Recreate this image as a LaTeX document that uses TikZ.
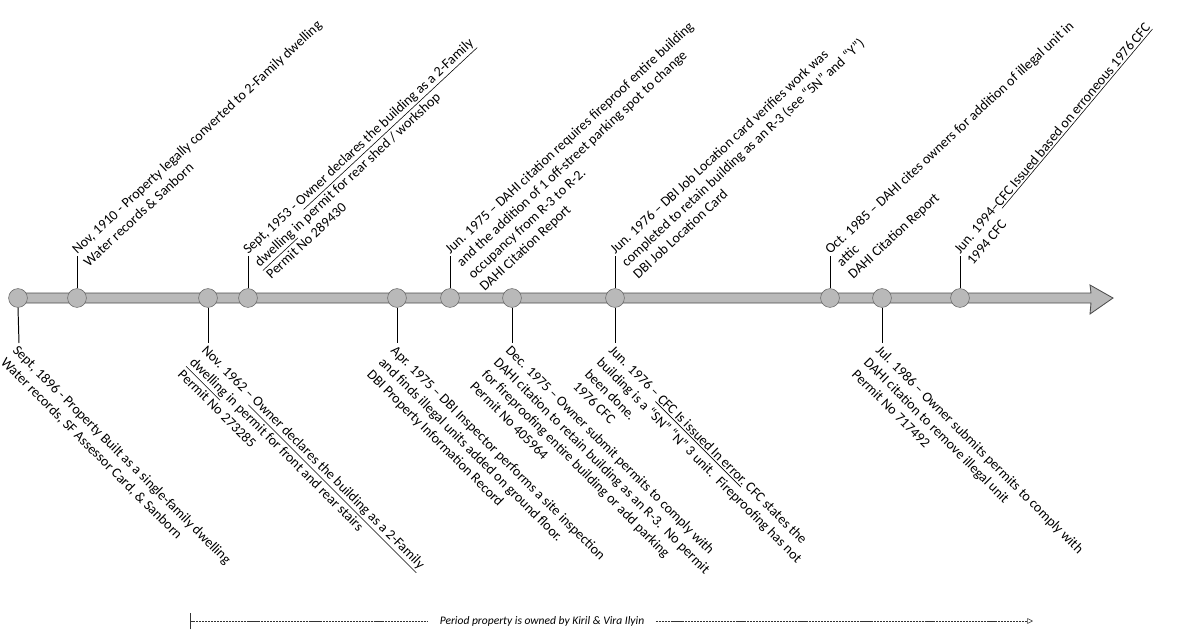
\documentclass[tikz,border=0pt]{standalone}
\usepackage{fontspec}
\setmainfont{Carlito}
\usetikzlibrary{arrows.meta}

\begin{document}
\begin{tikzpicture}[x=0.025cm,y=-0.025cm,
    event/.style={circle,draw=black!60,fill=gray!55,line width=0.4pt,minimum size=0.47cm,inner sep=0pt},
    tick/.style={black,line width=0.7pt},
    uplabel/.style={rotate=#1,anchor=north west,align=left,inner sep=0.5pt,font=\fontsize{10}{12}\selectfont},
    uplabel/.default=43,
    downlabel/.style={rotate=-45,anchor=north west,align=left,inner sep=0.5pt,font=\fontsize{10}{12}\selectfont},
    ownline/.style={black!80,line width=0.4pt,dash pattern=on 1.5pt off 0.6pt}]

  \useasboundingbox (0,0) rectangle (1184,632);

  % time line
  \draw [fill=gray!55,draw=black!70,line width=0.6pt] (12,293) -- (1091,293) -- (1090,285)
    -- (1113,298) -- (1090,314) -- (1091,303) -- (12,303) -- cycle;

  % events on the line
  \foreach \x/\n in {18/n1896,77/n1910,208/n1962,248/n1953,397/n1975a,450/n1975b,
                     512/n1975c,615/n1976,830/n1985,882/n1986,960/n1994}
    \node [event] (\n) at (\x,298) {};

  % events above
  \coordinate (t1910) at (77,256);
  \coordinate (t1953) at (248,256);
  \coordinate (t1975b) at (450,256);
  \coordinate (t1976a) at (615,256);
  \coordinate (t1985) at (830,256);
  \coordinate (t1994) at (960,256);
  \foreach \n/\t in {n1910/t1910,n1953/t1953,n1975b/t1975b,n1976/t1976a,n1985/t1985,n1994/t1994}
    \draw [tick] (\n.north) -- (\t);

  \node [uplabel] (l1910) at ([shift={(133:8pt)}]t1910)
    {Nov, 1910 - Property legally converted to 2-Family dwelling\\
    Water records \& Sanborn};
  \node [uplabel] (l1953) at ([shift={(133:8pt)}]t1953)
    {Sept, 1953 - \underline{Owner declares the building as a 2-Family}\\
    \underline{dwelling} in permit for rear shed / workshop\\
    Permit No 289430};
  \node [uplabel] (l1975b) at ([shift={(133:8pt)}]t1975b)
    {Jun. 1975 -- DAHI citation requires fireproof entire building\\
    and the addition of 1 off-street parking spot to change\\
    occupancy from R-3 to R-2.\\
    DAHI Citation Report};
  \node [uplabel] (l1976a) at ([shift={(133:8pt)}]t1976a)
    {Jun. 1976 -- DBI Job Location card verifies work was\\
    completed to retain building as an R-3 (see “5N” and “Y”)\\
    DBI Job Location Card};
  \node [uplabel] (l1985) at ([shift={(133:8pt)}]t1985)
    {Oct. 1985 -- DAHI cites owners for addition of illegal unit in\\
    attic\\
    DAHI Citation Report};
  \node [uplabel=50] (l1994) at ([shift={(140:8pt)}]t1994)
    {Jun. 1994--\underline{CFC Issued based on erroneous 1976 CFC}\\
    1994 CFC};

  % events below
  \coordinate (b1896) at (19,343);
  \coordinate (b1962) at (208,343);
  \coordinate (b1975a) at (397,343);
  \coordinate (b1975c) at (512,343);
  \coordinate (b1976) at (615,343);
  \coordinate (b1986) at (882,343);
  \foreach \n/\b in {n1896/b1896,n1962/b1962,n1975a/b1975a,n1975c/b1975c,n1976/b1976,n1986/b1986}
    \draw [tick] (\n.south) -- (\b);

  \node [downlabel] (l1896) at (b1896)
    {Sept, 1896 - Property Built as a single-family dwelling\\
    Water records, SF Assessor Card, \& Sanborn};
  \node [downlabel] (l1962) at (b1962)
    {Nov. 1962 -- \underline{Owner declares the building as a 2-Family}\\
    \underline{dwelling} in permit for front and rear stairs\\
    Permit No 273285};
  \node [downlabel] (l1975a) at (b1975a)
    {Apr. 1975 -- DBI Inspector performs a site inspection\\
    and finds illegal units added on ground floor.\\
    DBI Property Information Record};
  \node [downlabel] (l1975c) at (b1975c)
    {Dec. 1975 -- Owner submit permits to comply with\\
    DAHI citation to retain building as an R-3.\ \ No permit\\
    for fireproofing entire building or add parking\\
    Permit No 405964};
  \node [downlabel] (l1976) at (b1976)
    {Jun. 1976 -- \underline{CFC Is issued In error.} CFC states the\\
    building is a “SN” “N” 3 unit.\ \ Fireproofing has not\\
    been done.\\
    1976 CFC};
  \node [downlabel] (l1986) at (b1986)
    {Jul. 1986 -- Owner submits permits to comply with\\
    DAHI citation to remove illegal unit\\
    Permit No 717492};

  % ownership period
  \node [font=\fontsize{8.2}{9}\selectfont\itshape,inner xsep=8pt] (owned) at (542,621)
    {Period property is owned by Kiril \& Vira Ilyin};
  \coordinate (ownstart) at (190,621);
  \coordinate (ownend) at (1033,621);
  \draw [ownline,{Bar[width=12pt]}-] (ownstart) -- (owned.west);
  \draw [ownline,-{Triangle[open,length=4pt,width=4pt]}] (owned.east) -- (ownend);

\end{tikzpicture}
\end{document}
